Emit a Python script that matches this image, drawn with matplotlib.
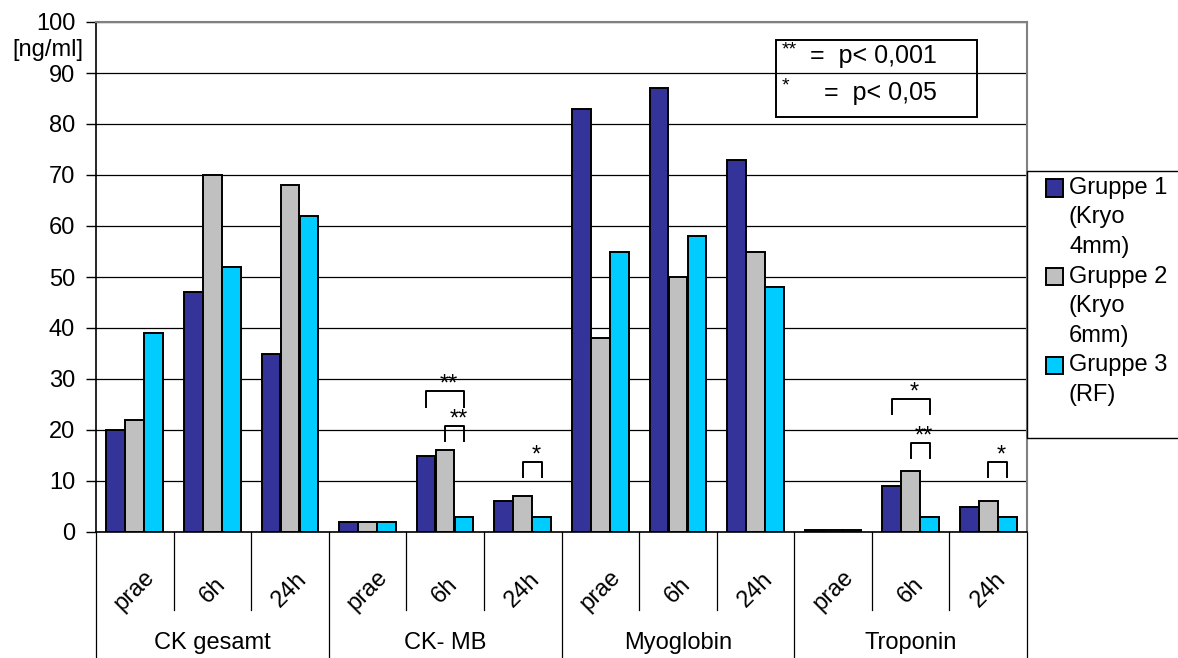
import numpy as np
import matplotlib.pyplot as plt
from matplotlib.patches import Rectangle
from matplotlib.lines import Line2D

plt.rcParams['font.family'] = ['Liberation Sans', 'DejaVu Sans']

# marker groups and time points
markers = ["CK gesamt", "CK- MB", "Myoglobin", "Troponin"]
times = ["prae", "6h", "24h"]

# mean values [ng/ml], one list per group (prae, 6h, 24h for each marker)
gruppe1 = [20, 47, 35, 2, 15, 6, 83, 87, 73, 0.3, 9, 5]
gruppe2 = [22, 70, 68, 2, 16, 7, 38, 50, 55, 0.3, 12, 6]
gruppe3 = [39, 52, 62, 2, 3, 3, 55, 58, 48, 0.3, 3, 3]

labels = ["Gruppe 1\n(Kryo\n4mm)", "Gruppe 2\n(Kryo\n6mm)", "Gruppe 3\n(RF)"]
colors = ["#333399", "#C0C0C0", "#00CCFF"]

# significance brackets: (slot, left group, right group, height, stars)
brackets = [
    (4, 0, 2, 27.6, "**"),
    (4, 1, 2, 20.8, "**"),
    (5, 1, 2, 13.7, "*"),
    (10, 0, 2, 26.1, "*"),
    (10, 1, 2, 17.5, "**"),
    (11, 1, 2, 13.7, "*"),
]

FS = 17
W, H = 1178, 658
fig = plt.figure(figsize=(W / 100, H / 100), dpi=100)
ax = fig.add_axes([96 / W, 1 - 532 / H, (1027 - 96) / W, (532 - 22) / H])

x = np.arange(len(gruppe1))
width = 0.24
step = 0.245
for k, (vals, col, lab) in enumerate(zip([gruppe1, gruppe2, gruppe3], colors, labels)):
    ax.bar(x + (k - 1) * step, vals, width, color=col, edgecolor="black",
           linewidth=1.4, label=lab, zorder=3)

ax.set_xlim(-0.5, len(x) - 0.5)
ax.set_ylim(0, 100)
ax.set_yticks(range(0, 101, 10))
ax.tick_params(axis="y", labelsize=FS, length=7, width=1, direction="out", pad=8)
ax.set_xticks([])
ax.yaxis.grid(True, color="black", linewidth=0.9, zorder=0)
ax.set_axisbelow(True)
for side in ["top", "right"]:
    ax.spines[side].set_color("#808080")
    ax.spines[side].set_linewidth(1.5)
ax.spines["left"].set_linewidth(1.2)
ax.spines["bottom"].set_linewidth(1.2)

# unit label under the top tick
ax.text(-0.014, 0.945, "[ng/ml]", transform=ax.transAxes, ha="right", va="center",
        fontsize=FS)

# category axis: time labels, marker labels and separators
trans = ax.get_xaxis_transform()
for i in range(len(x)):
    ax.text(i, -0.114, times[i % 3], transform=trans, rotation=45,
            ha="center", va="center", fontsize=FS, clip_on=False)
for j, m in enumerate(markers):
    ax.text(3 * j + 1, -0.218, m, transform=trans, ha="center", va="center",
            fontsize=FS, clip_on=False)
for i in range(len(x) + 1):
    bottom = -0.25 if i % 3 == 0 else -0.153
    ax.add_line(Line2D([i - 0.5, i - 0.5], [0, bottom], transform=trans,
                       color="black", linewidth=0.9, clip_on=False))

# significance brackets
for slot, g_left, g_right, h, stars in brackets:
    xl = slot + (g_left - 1) * step
    xr = slot + (g_right - 1) * step
    ax.plot([xl, xl, xr, xr], [h - 3, h, h, h - 3], color="black", linewidth=1.4,
            zorder=4)
    ax.text((xl + xr) / 2 + 0.05, h - 0.9, stars, ha="center", va="bottom",
            fontsize=17, zorder=4)

# p-value key
px0, px1, py0, py1 = 776, 977, 40, 117
ax.add_patch(Rectangle((px0 / W, 1 - py1 / H), (px1 - px0) / W, (py1 - py0) / H,
                       transform=fig.transFigure, fill=False, edgecolor="black",
                       linewidth=1.4, zorder=5))
fig.text(782 / W, 1 - 50 / H, "**", fontsize=14, ha="left", va="center")
fig.text(810 / W, 1 - 56 / H, "=  p< 0,001", fontsize=18, ha="left", va="center")
fig.text(782 / W, 1 - 86 / H, "*", fontsize=14, ha="left", va="center")
fig.text(824 / W, 1 - 93 / H, "=  p< 0,05", fontsize=18, ha="left", va="center")

# legend box, with each swatch next to the first line of its label
fig.add_artist(Rectangle((1027 / W, 1 - 438 / H), 200 / W, (438 - 171) / H,
                         transform=fig.transFigure, facecolor="white",
                         edgecolor="black", linewidth=1.0))
line_h = 29.5
y_px = 188
for lab, col in zip(labels, colors):
    fig.add_artist(Rectangle((1046 / W, 1 - (y_px + 8.5) / H), 17 / W, 17 / H,
                             transform=fig.transFigure, facecolor=col,
                             edgecolor="black", linewidth=1.4))
    for line in lab.split("\n"):
        fig.text(1069 / W, 1 - y_px / H, line, fontsize=FS, ha="left", va="center")
        y_px += line_h

fig.savefig("out.png", dpi=100)
